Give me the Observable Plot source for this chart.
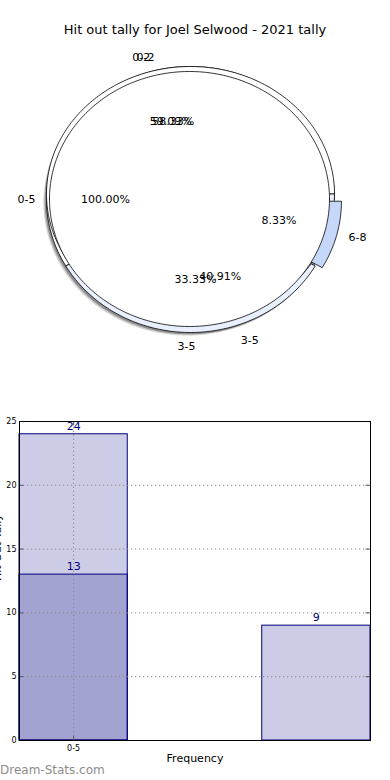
<!DOCTYPE html>
<html><head><meta charset="utf-8">
<script src="https://cdn.jsdelivr.net/npm/d3@7"></script>
<script src="https://cdn.jsdelivr.net/npm/@observablehq/plot@0.6"></script>
<style>
body{margin:0;background:#fff;font-family:"DejaVu Sans",sans-serif;width:390px;height:780px;overflow:hidden;position:relative}
#title{height:44px;padding-top:22px;box-sizing:border-box;text-align:center;font-size:13px;line-height:16px;color:#000}
#pie,#bar{line-height:0}
#credit{position:absolute;left:0;top:763px;font-size:12px;color:#8c8c8c;font-family:"DejaVu Sans",sans-serif;line-height:15px}
</style></head><body>
<div id="title">Hit out tally for Joel Selwood - 2021 tally</div>
<div id="pie"></div>
<div id="bar"></div>
<div id="credit">Dream-Stats.com</div>
<script>
// ---- data ----
const pieALabels = ["0-2", "3-5", "6-8"];
const pieAValues = [58.33, 33.33, 8.33];
const pieAColors = ["#ffffff", "#e8effd", "#c6d8fa"];
const pieAExplode = [0, 0, 0.05];
const pieBLabels = ["0-2", "3-5"];
const pieBValues = [59.09, 40.91];
const pieBColors = ["#ffffff", "#e8effd"];
const pieCLabels = ["0-5"];
const pieCValues = [100];
const pieCColors = ["#ffffff"];

const barCategories = ["0-5", "0-5", ""];
const barPositions = [0, 0, 1];
const barValues = [24, 13, 9];
const yTicks = [0, 5, 10, 15, 20, 25];
const xTickLabels = ["0-5"];
const xTickPositions = [0];

// ---- pie layout (page pixel space) ----
const geom = {
  A: {draw: {cx: 190, cy: 199, rx: 144, ry: 133}, label: {cx: 195, cy: 199, rx: 144, ry: 134}},
  B: {draw: {cx: 190, cy: 193.5, rx: 144, ry: 127.5}, label: {cx: 195, cy: 198.5, rx: 146, ry: 134}},
  C: {draw: {cx: 189, cy: 198.5, rx: 140, ry: 127.5}, label: {cx: 189, cy: 199, rx: 140, ry: 128}}
};

function slices(labels, values, colors, explode) {
  const total = d3.sum(values);
  let cum = 0;
  return values.map((v, i) => {
    const t1 = cum / total * 360;
    cum += v;
    const t2 = cum / total * 360;
    return {label: labels[i], value: v, color: colors[i], explode: explode ? explode[i] : 0,
            t1, t2, mid: (t1 + t2) / 2, full: (t2 - t1) >= 359.999};
  });
}
const rad = d => d * Math.PI / 180;
function wedgePoints(s, g, id, ox = 0, oy = 0) {
  const ex = s.explode * g.rx * Math.cos(rad(s.mid)) + ox;
  const ey = -s.explode * g.ry * Math.sin(rad(s.mid)) + oy;
  const pts = [];
  if (!s.full) pts.push({x: g.cx + ex, y: g.cy + ey, id});
  const n = Math.max(4, Math.ceil((s.t2 - s.t1) / 1));
  for (let k = 0; k <= n; k++) {
    const t = rad(s.t1 + (s.t2 - s.t1) * k / n);
    pts.push({x: g.cx + ex + g.rx * Math.cos(t), y: g.cy + ey - g.ry * Math.sin(t), id});
  }
  pts.push({...pts[0]});
  return pts;
}

const sA = slices(pieALabels, pieAValues, pieAColors, pieAExplode);
const sB = slices(pieBLabels, pieBValues, pieBColors);
const sC = slices(pieCLabels, pieCValues, pieCColors);

const marks = [];
const wedgeMark = (s, key, id) => Plot.line(wedgePoints(s, geom[key].draw, id), {x: "x", y: "y", fill: s.color, stroke: "#000", strokeWidth: 0.8});
// shadow under pie A
[[-3, 3, 0.25], [-1.8, 1.8, 0.45]].forEach(([ox, oy, op], j) => {
  const full = {t1: 0, t2: 360, mid: 0, explode: 0, full: true};
  marks.push(Plot.line(wedgePoints(full, geom.A.draw, "sh" + j, ox, oy), {x: "x", y: "y", fill: "#404040", fillOpacity: op, stroke: "none"}));
});
// non-exploded wedges of A, then B, then exploded wedges of A, then C on top
sA.forEach((s, i) => { if (!s.explode) marks.push(wedgeMark(s, "A", "A" + i)); });
sB.forEach((s, i) => marks.push(wedgeMark(s, "B", "B" + i)));
sA.forEach((s, i) => { if (s.explode) marks.push(wedgeMark(s, "A", "A" + i)); });
sC.forEach((s, i) => marks.push(wedgeMark(s, "C", "C" + i)));

// labels
const outerLabels = [], pctLabels = [];
[[sA, "A"], [sB, "B"], [sC, "C"]].forEach(([ss, key]) => {
  const g = geom[key].label;
  ss.forEach(s => {
    const c = Math.cos(rad(s.mid)), sn = Math.sin(rad(s.mid));
    outerLabels.push({x: g.cx + 1.1 * g.rx * c, y: g.cy - 1.1 * g.ry * sn, text: s.label, left: c > 0.001});
    pctLabels.push({x: g.cx + 0.6 * g.rx * c, y: g.cy - 0.6 * g.ry * sn, text: d3.format(".2f")(s.value) + "%"});
  });
});
marks.push(Plot.text(outerLabels.filter(d => d.left), {x: "x", y: "y", text: "text", textAnchor: "start", fontSize: 11, fill: "#000"}));
marks.push(Plot.text(outerLabels.filter(d => !d.left), {x: "x", y: "y", text: "text", textAnchor: "end", fontSize: 11, fill: "#000"}));
marks.push(Plot.text(pctLabels, {x: "x", y: "y", text: "text", textAnchor: "middle", fontSize: 11, fill: "#000"}));

const pie = Plot.plot({
  width: 390, height: 356, margin: 0,
  style: {fontFamily: "DejaVu Sans, sans-serif", background: "transparent"},
  x: {domain: [0, 390], range: [0, 390], axis: null},
  y: {domain: [44, 400], range: [0, 356], axis: null},
  marks
});
document.getElementById("pie").appendChild(pie);

// ---- bar chart ----
const W = 0.446;
const bars = barValues.map((v, i) => ({pos: barPositions[i], value: v, cat: barCategories[i]}));
const xLo = -W / 2, xHi = 1 + W / 2;
const bar = Plot.plot({
  width: 390, height: 380,
  marginLeft: 19, marginRight: 20, marginTop: 21, marginBottom: 40,
  style: {fontFamily: "DejaVu Sans, sans-serif", background: "transparent"},
  x: {domain: [xLo, xHi], axis: null},
  y: {domain: [0, 25], axis: null},
  marks: [
    Plot.rect(bars, {x1: d => d.pos - W / 2, x2: d => d.pos + W / 2, y1: 0, y2: "value", fill: "navy", fillOpacity: 0.2, stroke: "navy", strokeWidth: 1}),
    Plot.ruleY(yTicks.slice(1, -1), {x1: xLo, x2: xHi, stroke: "#888", strokeDasharray: "1.2,2.8", strokeWidth: 1}),
    Plot.ruleX(xTickPositions, {y1: 0, y2: 25, stroke: "#888", strokeDasharray: "1.2,2.8", strokeWidth: 1}),
    Plot.ruleY(yTicks, {x1: xLo, x2: xLo + 0.018, stroke: "#555"}),
    Plot.ruleY(yTicks, {x1: xHi - 0.018, x2: xHi, stroke: "#555"}),
    Plot.ruleX(xTickPositions, {y1: 0, y2: 0.33, stroke: "#555"}),
    Plot.ruleX(xTickPositions, {y1: 25 - 0.33, y2: 25, stroke: "#555"}),
    Plot.text(bars, {x: "pos", y: "value", text: d => String(d.value), dy: -8, fill: "navy", fontSize: 11}),
    Plot.frame({stroke: "#000", strokeWidth: 1}),
    Plot.text(yTicks, {x: xLo, y: d => d, text: d => String(d), textAnchor: "end", dx: -3, fontSize: 8, fill: "#000"}),
    Plot.text(xTickLabels, {x: (d, i) => xTickPositions[i], y: 0, text: d => d, dy: 8, fontSize: 8, fill: "#000"}),
    Plot.text(["Frequency"], {frameAnchor: "bottom", dy: 21, text: d => d, fontSize: 11, fill: "#000"}),
    Plot.text(["Hit Out Tally"], {frameAnchor: "left", dx: -22, rotate: -90, text: d => d, fontSize: 11, fill: "#000"})
  ]
});
document.getElementById("bar").appendChild(bar);
</script>
</body></html>
